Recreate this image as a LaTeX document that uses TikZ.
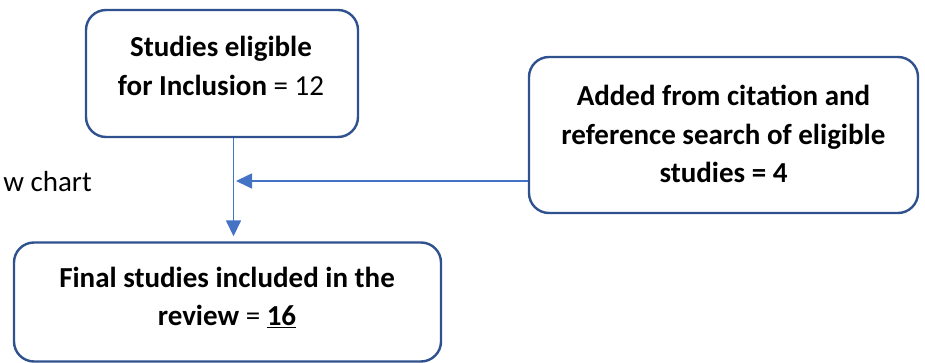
\documentclass[tikz,border=0pt]{standalone}
\usepackage{fontspec}
\setmainfont{Carlito}
\usetikzlibrary{arrows.meta}
\definecolor{boxblue}{HTML}{2F528F}
\definecolor{arrblue}{HTML}{4472C4}
\tikzset{
  box/.style={draw=boxblue, line width=2.4pt, rounded corners=20pt, fill=white, inner sep=0pt},
  txt/.style={align=center, inner sep=0pt, font=\fontsize{29}{38.5}\selectfont},
  arr/.style={draw=arrblue, line width=1.6pt, -{Triangle[length=16pt,width=15pt]}},
}
\begin{document}
\begin{tikzpicture}[x=1pt,y=-1pt]
\useasboundingbox (0,0) rectangle (925,363);
\node[box, minimum width=272pt, minimum height=127pt] (b1) at (222,73.5) {};
\node[box, minimum width=389pt, minimum height=156pt] (b2) at (723.5,135) {};
\node[box, minimum width=427pt, minimum height=119pt] (b3) at (227.5,302) {};
\node[txt] (t1) at (221,66) {\textbf{Studies eligible}\\\textbf{for Inclusion} = 12};
\node[txt] (t2) at (723.5,134) {\textbf{Added from citation and}\\\textbf{reference search of eligible}\\\textbf{studies = 4}};
\node[txt] (t3) at (227,297.5) {\textbf{Final studies included in the}\\\textbf{review} = \textbf{\underline{16}}};
\node[txt, anchor=east] (t4) at (92,182) {w chart};
\coordinate (vx) at (233.5,0);
\coordinate (h) at (236,181);
\draw[arr, shorten >=5pt] (b1.south -| vx) -- (b3.north -| vx);
\draw[arr] (b2.west |- h) -- (h);
\end{tikzpicture}
\end{document}
